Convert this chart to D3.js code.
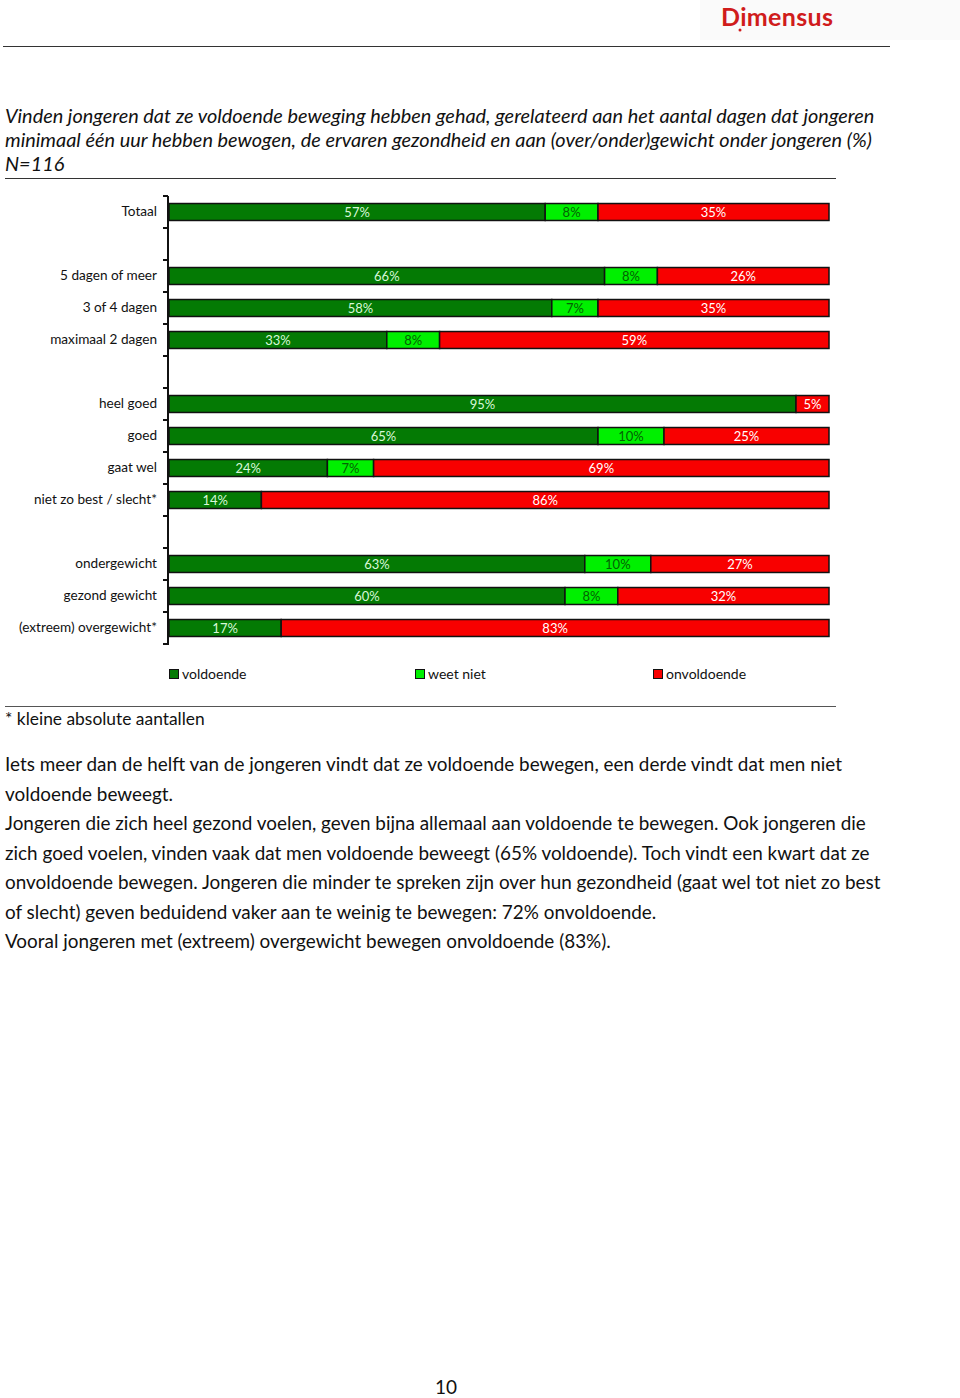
<!DOCTYPE html>
<html><head><meta charset="utf-8">
<script src="https://cdn.jsdelivr.net/npm/d3@7"></script>
<style>body{margin:0;background:#fff}svg{display:block}text{font-family:Lato,"Open Sans",sans-serif}</style>
</head><body>
<script>
// ---- data ----
const categories = ["Totaal","_b1","5 dagen of meer","3 of 4 dagen","maximaal 2 dagen","_b2","heel goed","goed","gaat wel","niet zo best / slecht*","_b3","ondergewicht","gezond gewicht","(extreem) overgewicht*"];
const voldoende   = [57,null,66,58,33,null,95,65,24,14,null,63,60,17];
const weetNiet    = [8,null,8,7,8,null,0,10,7,0,null,10,8,0];
const onvoldoende = [35,null,26,35,59,null,5,25,69,86,null,27,32,83];
const seriesNames = ["voldoende","weet niet","onvoldoende"];
const seriesColors = ["#047A04","#00F000","#F80000"];
const labelColors = ["#D8F8D8","#046004","#FFFFFF"];
const titleLines = ["Vinden jongeren dat ze voldoende beweging hebben gehad, gerelateerd aan het aantal dagen dat jongeren","minimaal één uur hebben bewogen, de ervaren gezondheid en aan (over/onder)gewicht onder jongeren (%)","N=116"];
const bodyLines = ["Iets meer dan de helft van de jongeren vindt dat ze voldoende bewegen, een derde vindt dat men niet","voldoende beweegt.","Jongeren die zich heel gezond voelen, geven bijna allemaal aan voldoende te bewegen. Ook jongeren die","zich goed voelen, vinden vaak dat men voldoende beweegt (65% voldoende). Toch vindt een kwart dat ze","onvoldoende bewegen. Jongeren die minder te spreken zijn over hun gezondheid (gaat wel tot niet zo best","of slecht) geven beduidend vaker aan te weinig te bewegen: 72% onvoldoende.","Vooral jongeren met (extreem) overgewicht bewegen onvoldoende (83%)."];

const W=960,H=1398;
const svg=d3.select("body").append("svg").attr("width",W).attr("height",H);

// header
svg.append("rect").attr("x",700).attr("y",0).attr("width",260).attr("height",40).attr("fill","#fafafa");
svg.append("text").attr("x",721).attr("y",26).attr("font-size",25).attr("font-weight","bold").attr("fill","#D01C1C").attr("textLength",112).text("Dimensus");
svg.append("circle").attr("cx",740).attr("cy",30).attr("r",1.5).attr("fill","#D01C1C");
svg.append("line").attr("x1",3).attr("x2",890).attr("y1",46.5).attr("y2",46.5).attr("stroke","#333").attr("stroke-width",1.2);

// title
titleLines.forEach((t,i)=>{
  svg.append("text").attr("x",5).attr("y",123+i*24).attr("font-size",19.9).attr("font-style","italic").attr("fill","#111").text(t);
});
svg.append("line").attr("x1",5).attr("x2",836).attr("y1",178.5).attr("y2",178.5).attr("stroke","#333").attr("stroke-width",1);

// chart
const x=d3.scaleLinear().domain([0,100]).range([169,829]);
const y=d3.scaleBand().domain(categories).range([196,644]).paddingInner(0.47).paddingOuter(0.235);
const step=y.step();
const rowTop=k=>196+categories.indexOf(k)*step;

const rows=categories.map((c,i)=>({c,vals:[voldoende[i],weetNiet[i],onvoldoende[i]]})).filter(r=>r.vals[0]!==null);
const g=svg.append("g");
rows.forEach(r=>{
  let acc=0;
  r.vals.forEach((v,si)=>{
    if(!v) return;
    const x0=x(acc),x1=x(acc+v);
    g.append("rect").attr("x",x0).attr("y",y(r.c)).attr("width",x1-x0).attr("height",y.bandwidth())
      .attr("fill",seriesColors[si]).attr("stroke","#111").attr("stroke-width",1.5);
    g.append("text").attr("x",(x0+x1)/2).attr("y",y(r.c)+y.bandwidth()/2+4.5).attr("text-anchor","middle")
      .attr("font-size",13).attr("fill",labelColors[si]).text(v+"%");
    acc+=v;
  });
});
// axis
const ax=svg.append("g").attr("transform","translate(168,0)");
ax.call(d3.axisLeft(y).tickSize(0).tickPadding(11).tickFormat(d=>d.startsWith("_")?"":d));
ax.select(".domain").remove();
ax.selectAll("text").attr("font-size",13.6).attr("fill","#111").style("font-family","Lato,'Open Sans',sans-serif");
ax.append("line").attr("x1",0).attr("x2",0).attr("y1",196).attr("y2",645).attr("stroke","#111").attr("stroke-width",2);
const tickYs=categories.map(rowTop).concat([644]);
ax.selectAll("line.tk").data(tickYs).enter().append("line").attr("class","tk")
  .attr("x1",-5).attr("x2",0).attr("y1",d=>d).attr("y2",d=>d).attr("stroke","#111").attr("stroke-width",2);

// legend
const legX=[169,415,653];
seriesNames.forEach((n,i)=>{
  svg.append("rect").attr("x",legX[i]+0.5).attr("y",669.5).attr("width",9).attr("height",9).attr("fill",seriesColors[i]).attr("stroke","#111").attr("stroke-width",1);
  svg.append("text").attr("x",legX[i]+13).attr("y",679).attr("font-size",14).attr("fill","#111").text(n);
});
svg.append("line").attr("x1",5).attr("x2",836).attr("y1",706.5).attr("y2",706.5).attr("stroke","#555").attr("stroke-width",1.2);
svg.append("text").attr("x",5).attr("y",725).attr("font-size",17.4).attr("fill","#111").text("* kleine absolute aantallen");

// body
bodyLines.forEach((t,i)=>{
  svg.append("text").attr("x",5).attr("y",771+i*29.5).attr("font-size",18.9).attr("fill","#111").text(t);
});
svg.append("text").attr("x",446).attr("y",1394).attr("text-anchor","middle").attr("font-size",19).attr("fill","#111").text("10");
</script>
</body></html>
